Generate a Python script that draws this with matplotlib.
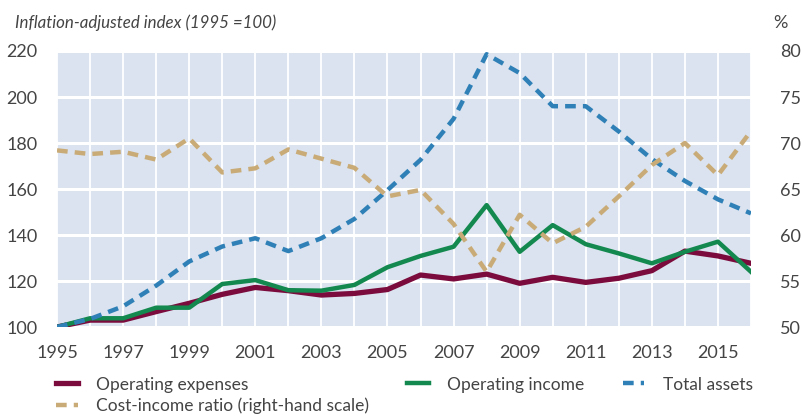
import matplotlib.pyplot as plt
import matplotlib

matplotlib.rcParams["font.family"] = ["Lato", "DejaVu Sans"]

years = list(range(1995, 2017))

operating_expenses = [100, 103, 103, 106.7, 110.3, 114.2, 117.2, 115.8, 113.9, 114.6, 116.3,
                      122.6, 120.9, 123, 119, 121.6, 119.4, 121.2, 124.5, 133, 130.9, 127.7]
operating_income = [100, 103.8, 103.8, 108.4, 108.4, 118.7, 120.4, 116, 115.8, 118.3, 126,
                    130.9, 134.9, 153, 132.7, 144.3, 136, 132, 127.7, 132.7, 137.1, 124]
total_assets = [100, 103.5, 109, 118, 128.5, 135, 138.6, 133, 138.6, 147, 159.5,
                172.7, 190.5, 218.6, 210.4, 196, 196, 185, 173, 163.5, 155.5, 149.4]
cost_income = [69.2, 68.8, 69.05, 68.2, 70.5, 66.8, 67.25, 69.3, 68.3, 67.3, 64.2,
               64.9, 61.2, 56.0, 62.2, 59.1, 60.9, 64.2, 67.6, 70.0, 66.5, 71.3]

text_color = "#444444"
bg_color = "#dae3ef"

fig = plt.figure(figsize=(8.02, 4.17), dpi=100)
ax = fig.add_axes([0.0711, 0.2158, 0.8653, 0.6619])
ax2 = ax.twinx()

ax.set_facecolor(bg_color)
ax.set_zorder(ax2.get_zorder() - 1)
ax2.patch.set_visible(False)

l1, = ax.plot(years, operating_expenses, color="#7a0b3c", linewidth=3.8, label="Operating expenses", zorder=3)
l2, = ax.plot(years, operating_income, color="#13894f", linewidth=3.2, label="Operating income", zorder=4)
l3, = ax.plot(years, total_assets, color="#2f80b7", linewidth=3.2, dashes=(2.4, 1.6),
              label="Total assets", zorder=5)
l4, = ax2.plot(years, cost_income, color="#c9ab78", linewidth=3.2, dashes=(2.4, 1.6),
               label="Cost-income ratio (right-hand scale)")

ax.set_xlim(1995, 2016)
ax.set_ylim(100, 220)
ax2.set_ylim(50, 80)
ax.set_xticks(range(1995, 2017, 2))
ax.set_xticks(years, minor=True)
ax.set_yticks(range(100, 221, 20))
ax2.set_yticks(range(50, 81, 5))

ax.grid(True, which="both", axis="x", color="white", linewidth=1.3)
ax.grid(True, axis="y", color="white", linewidth=2.2)
ax.set_axisbelow(True)

for a in (ax, ax2):
    for s in a.spines.values():
        s.set_visible(False)
    a.tick_params(which="both", length=0, labelsize=13, colors=text_color)
ax.tick_params(axis="x", pad=13)
ax.tick_params(axis="y", pad=14)
ax2.tick_params(axis="y", pad=21)

fig.text(0.019, 0.945, "Inflation-adjusted index (1995 =100)", fontsize=12.2, style="italic",
         color=text_color, va="center")
fig.text(0.973, 0.945, "%", fontsize=13, color=text_color, va="center", ha="center")

leg = fig.legend(handles=[l1, l4, l2, l3], loc="upper left", bbox_to_anchor=(0.07, 0.097),
                 ncol=3, frameon=False, fontsize=12.5, handlelength=1.25, handletextpad=1.05,
                 columnspacing=2.2, labelspacing=0.3, borderaxespad=0, borderpad=0)
for t in leg.get_texts():
    t.set_color(text_color)

plt.savefig("out.png", dpi=100)
plt.close()
